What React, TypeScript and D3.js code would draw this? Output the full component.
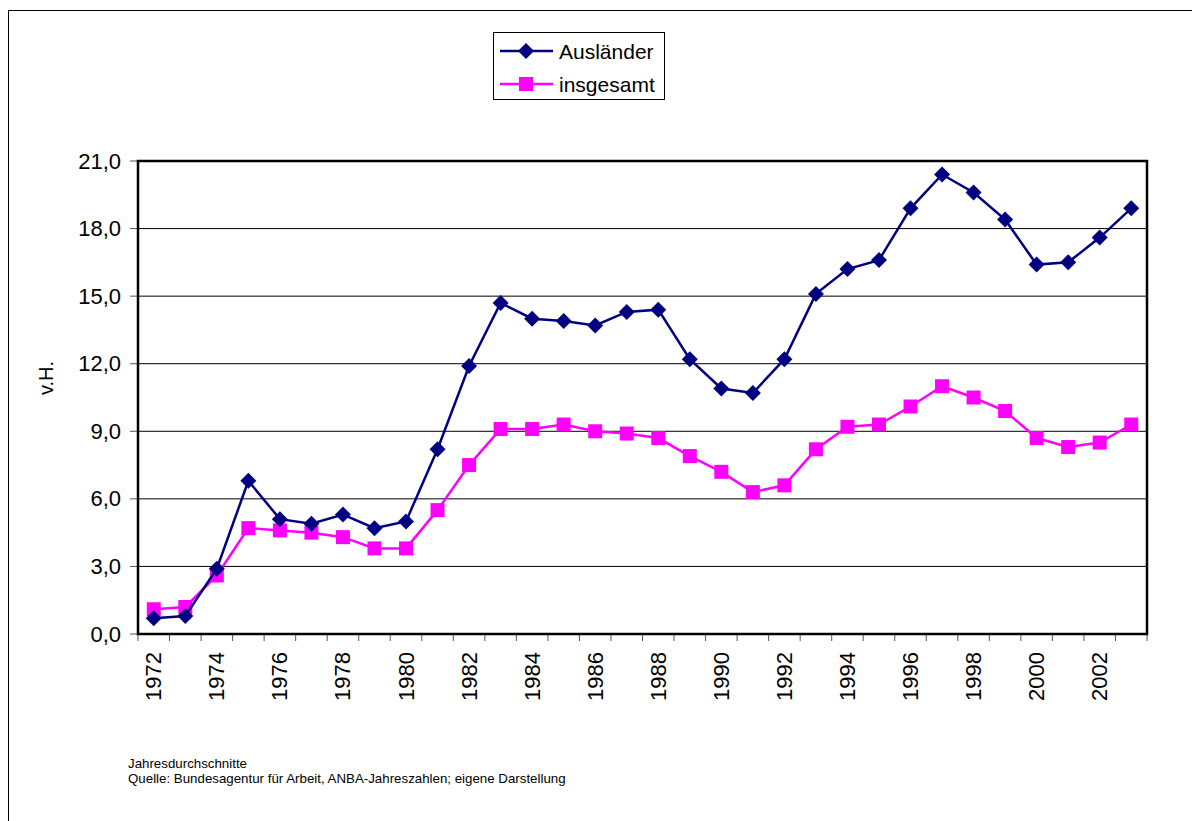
import React from "react";
import * as d3 from "d3";

const years: number[] = d3.range(1972, 2004);
const auslaender: number[] = [
  0.7, 0.8, 2.9, 6.8, 5.1, 4.9, 5.3, 4.7, 5.0, 8.2, 11.9, 14.7, 14.0, 13.9, 13.7, 14.3,
  14.4, 12.2, 10.9, 10.7, 12.2, 15.1, 16.2, 16.6, 18.9, 20.4, 19.6, 18.4, 16.4, 16.5, 17.6, 18.9,
];
const insgesamt: number[] = [
  1.1, 1.2, 2.6, 4.7, 4.6, 4.5, 4.3, 3.8, 3.8, 5.5, 7.5, 9.1, 9.1, 9.3, 9.0, 8.9,
  8.7, 7.9, 7.2, 6.3, 6.6, 8.2, 9.2, 9.3, 10.1, 11.0, 10.5, 9.9, 8.7, 8.3, 8.5, 9.3,
];
const yTicks: number[] = [0, 3, 6, 9, 12, 15, 18, 21];
const seriesNames: string[] = ["Ausländer", "insgesamt"];
const footnotes: string[] = [
  "Jahresdurchschnitte",
  "Quelle: Bundesagentur für Arbeit, ANBA-Jahreszahlen; eigene Darstellung",
];

const FONT = "Arial, 'Liberation Sans', sans-serif";
const NAVY = "#000080";
const MAGENTA = "#FF00FF";

export default function App() {
  const left = 138, right = 1147, top = 161, bottom = 634;
  const x = d3.scaleBand<number>().domain(years).range([left, right]).padding(0);
  const y = d3.scaleLinear().domain([0, 21]).range([bottom, top]);
  const cx = (yr: number) => (x(yr) as number) + x.bandwidth() / 2;

  const line = d3
    .line<number>()
    .x((_, i) => cx(years[i]))
    .y((d) => y(d));

  const diamond = (px: number, py: number, r = 8) =>
    `M${px},${py - r}L${px + r},${py}L${px},${py + r}L${px - r},${py}Z`;

  const boundaries = d3.range(0, years.length + 1).map((i) => left + i * x.bandwidth());

  return (
    <svg
      width={1192}
      height={821}
      style={{ position: "absolute", left: 0, top: 0, background: "#fff" }}
      fontFamily={FONT}
    >
      {/* outer frame (clipped at right/bottom) */}
      <rect x={8.5} y={10.5} width={1300} height={900} fill="none" stroke="#000" strokeWidth={1} />

      {/* gridlines */}
      {yTicks.slice(1, -1).map((t) => (
        <line key={"g" + t} x1={left} x2={right} y1={y(t)} y2={y(t)} stroke="#000" strokeWidth={1} />
      ))}

      {/* y tick marks and labels */}
      {yTicks.map((t) => (
        <g key={"yt" + t}>
          <line x1={130} x2={left} y1={y(t)} y2={y(t)} stroke="#555" strokeWidth={1} />
          <text
            x={121}
            y={y(t)}
            textAnchor="end"
            dominantBaseline="central"
            fontSize={22}
            fill="#000"
          >
            {d3.format(".1f")(t).replace(".", ",")}
          </text>
        </g>
      ))}

      {/* x tick marks */}
      {boundaries.map((bx, i) => (
        <line key={"xt" + i} x1={bx} x2={bx} y1={bottom} y2={bottom + 7} stroke="#555" strokeWidth={1} />
      ))}
      {/* x labels */}
      {years.map((yr, i) =>
        i % 2 === 0 ? (
          <text
            key={"xl" + yr}
            transform={`translate(${cx(yr)},${652}) rotate(-90)`}
            textAnchor="end"
            dominantBaseline="central"
            fontSize={22}
            fill="#000"
          >
            {yr}
          </text>
        ) : null
      )}

      {/* plot border */}
      <rect x={left} y={top} width={right - left} height={bottom - top} fill="none" stroke="#000" strokeWidth={2.5} />

      {/* y axis title */}
      <text
        transform={`translate(46,378) rotate(-90)`}
        textAnchor="middle"
        dominantBaseline="central"
        fontSize={20}
        fill="#000"
      >
        v.H.
      </text>

      {/* series insgesamt */}
      <path d={line(insgesamt) || ""} fill="none" stroke={MAGENTA} strokeWidth={2.5} />
      {insgesamt.map((v, i) => (
        <rect key={"s" + i} x={cx(years[i]) - 7} y={y(v) - 7} width={14} height={14} fill={MAGENTA} />
      ))}

      {/* series Ausländer */}
      <path d={line(auslaender) || ""} fill="none" stroke={NAVY} strokeWidth={2.5} />
      {auslaender.map((v, i) => (
        <path key={"d" + i} d={diamond(cx(years[i]), y(v))} fill={NAVY} />
      ))}

      {/* legend */}
      <rect x={493.5} y={32.5} width={171} height={67} fill="#fff" stroke="#000" strokeWidth={1} />
      <line x1={500} x2={553} y1={51} y2={51} stroke={NAVY} strokeWidth={2.5} />
      <path d={diamond(526, 51, 8)} fill={NAVY} />
      <text x={559} y={51} dominantBaseline="central" fontSize={21} fill="#000">
        {seriesNames[0]}
      </text>
      <line x1={500} x2={553} y1={84} y2={84} stroke={MAGENTA} strokeWidth={2.5} />
      <rect x={519} y={77} width={14} height={14} fill={MAGENTA} />
      <text x={559} y={84} dominantBaseline="central" fontSize={21} fill="#000">
        {seriesNames[1]}
      </text>

      {/* footnotes */}
      {footnotes.map((f, i) => (
        <text key={"f" + i} x={128} y={768 + i * 15} fontSize={13.3} fill="#000">
          {f}
        </text>
      ))}
    </svg>
  );
}
